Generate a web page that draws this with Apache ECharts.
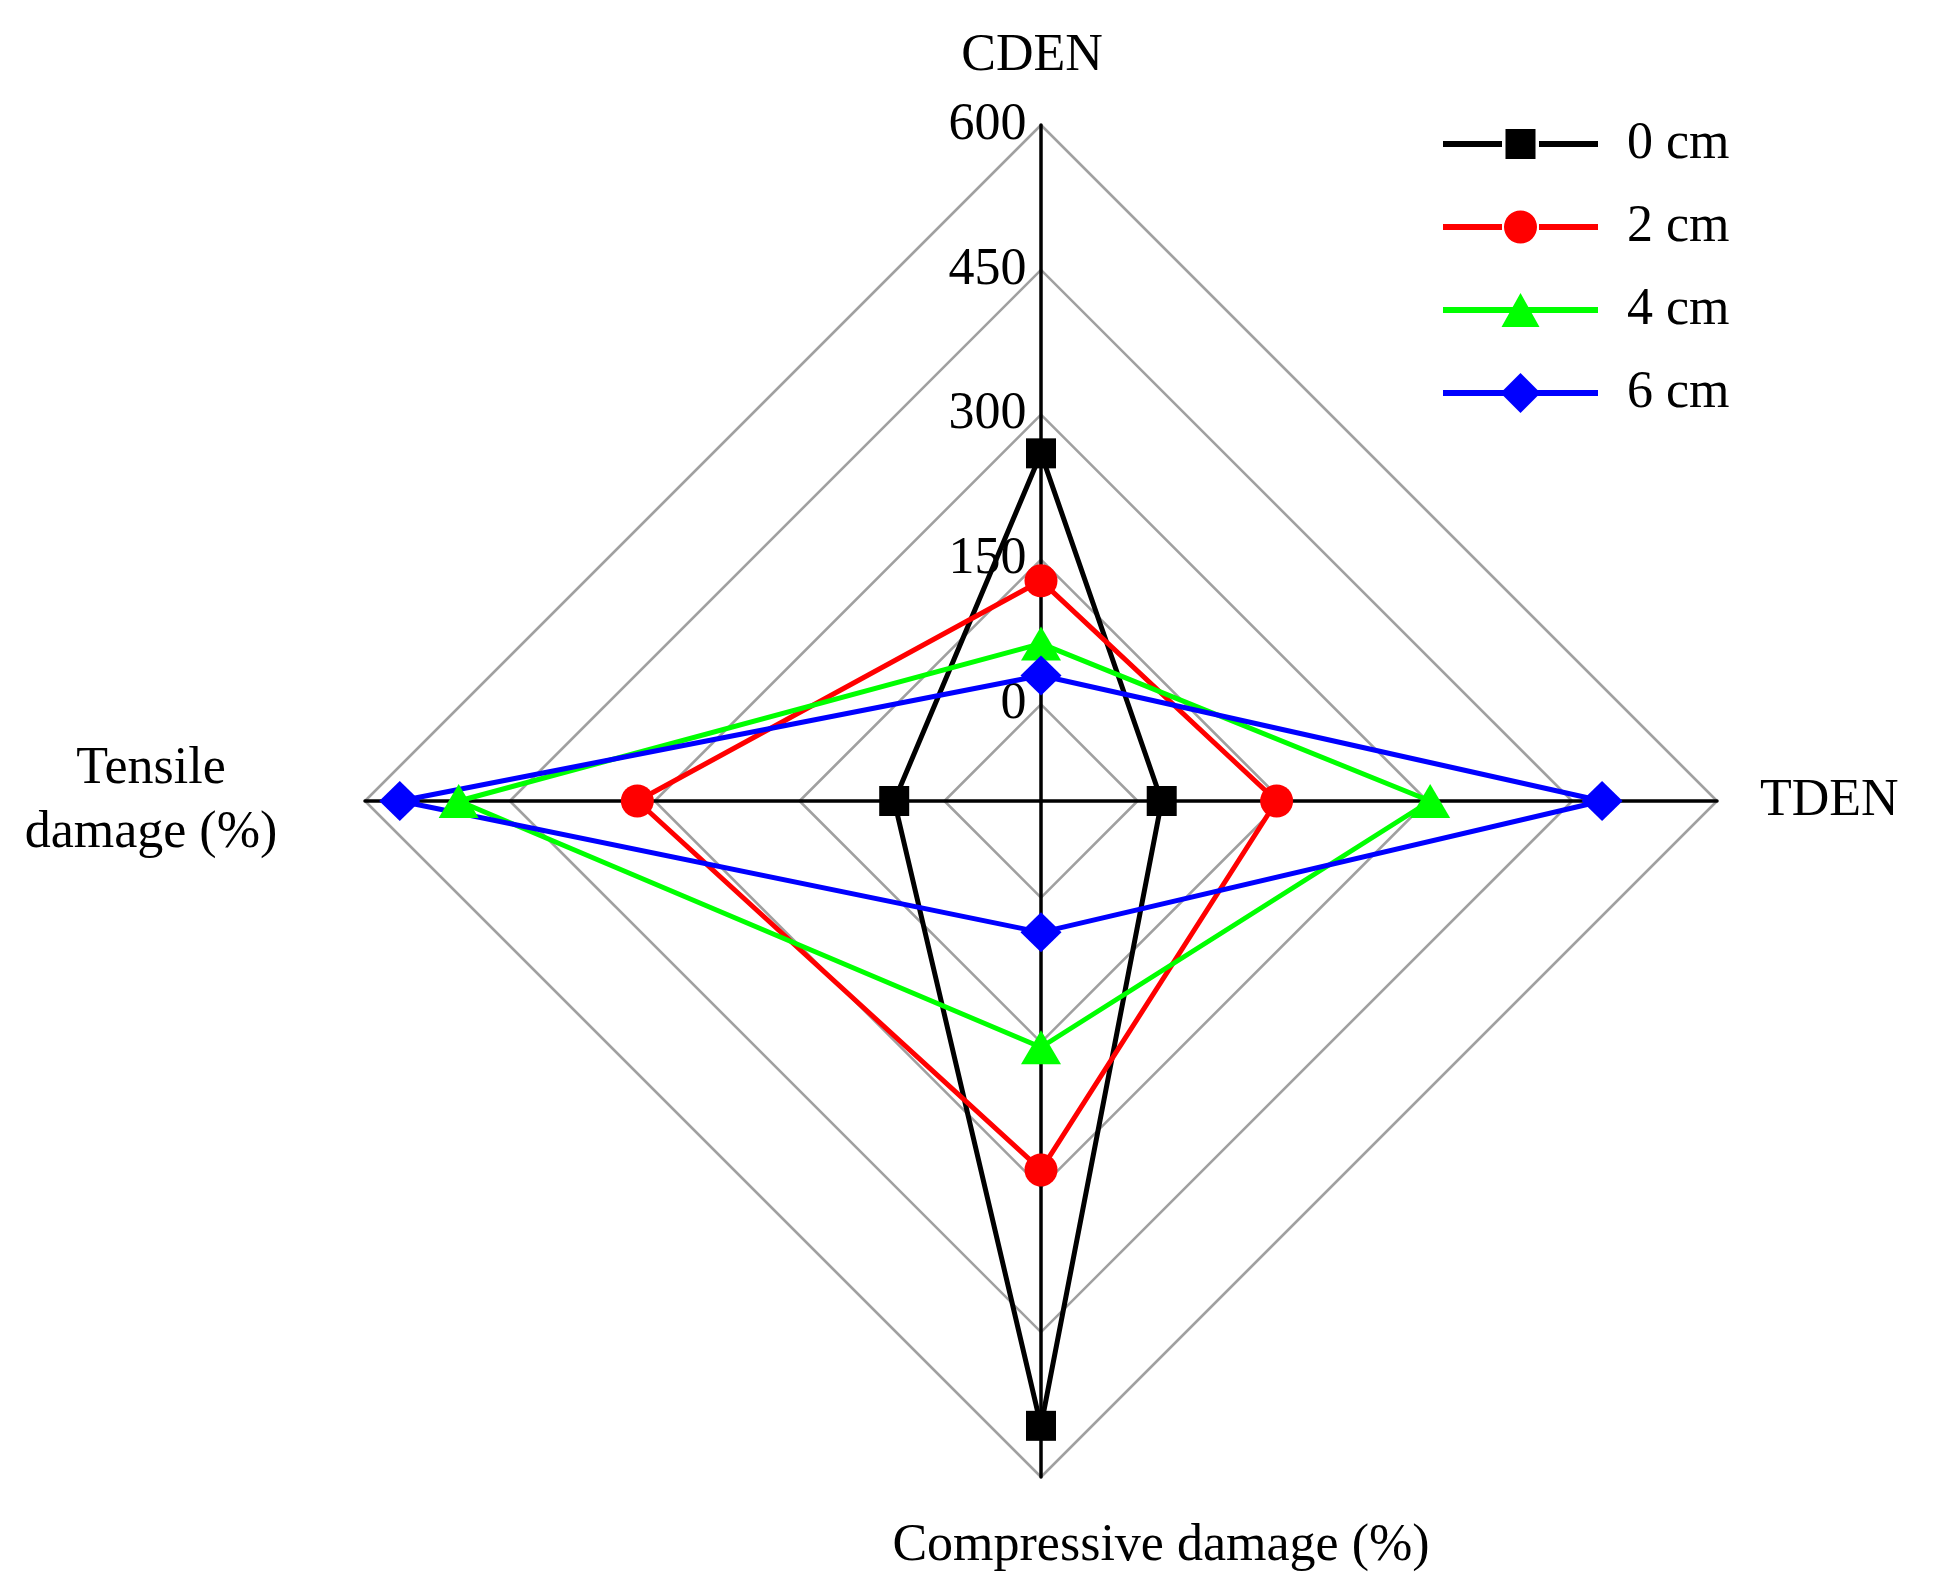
<!DOCTYPE html>
<html><head><meta charset="utf-8">
<script src="https://cdn.jsdelivr.net/npm/echarts@6/dist/echarts.min.js"></script>
<style>html,body{margin:0;padding:0;background:#fff}#c{width:1935px;height:1591px}</style>
</head><body><div id="c"></div>
<script>
// ---- data ----
const INDICATORS = ['CDEN', 'Tensile\ndamage (%)', 'Compressive damage (%)', 'TDEN']; // top, left, bottom, right
const AXIS_MIN = -100;
const AXIS_MAX = 600;
const TICK_VALUES = [0, 150, 300, 450, 600];
const SERIES_NAMES = ['0 cm', '2 cm', '4 cm', '6 cm'];
const S0 = [260, 52, 547, 25];
const S2 = [128, 318, 282, 144];
const S4 = [63, 503, 155, 303];
const S6 = [30, 564, 36, 481];

// ---- styles ----
const FONT = "'Liberation Serif', 'Times New Roman', serif";
const COLORS = ['#000000', '#ff0000', '#00ff00', '#0000ff'];
const SYMBOLS = ['rect', 'circle', 'triangle', 'diamond'];
const SYMBOL_SIZES = [30, 33, [40, 34], [41, 40]];
const LEGEND_ICONS = [
  'path://M0 0M0 17H59V23H0Z M96 17H155V23H96Z M62.5 5H92.5V35H62.5Z M155 40',
  'path://M0 0M0 17H59V23H0Z M96 17H155V23H96Z M61 20A16.5 16.5 0 1 1 94 20A16.5 16.5 0 1 1 61 20Z M155 40',
  'path://M0 0M0 17H155V23H0Z M77.5 3L96.5 37H58.5Z M155 40',
  'path://M0 0M0 17H155V23H0Z M77.5 0L97.5 20L77.5 40L57.5 20Z M155 40'
];

const DATA = [S0, S2, S4, S6];

const dataSeries = DATA.map((vals, i) => ({
  type: 'radar',
  name: SERIES_NAMES[i],
  z: 3,
  silent: true,
  symbol: SYMBOLS[i],
  symbolSize: SYMBOL_SIZES[i],
  itemStyle: { color: COLORS[i], borderWidth: 0, opacity: 1 },
  lineStyle: { color: COLORS[i], width: 5, join: 'round', cap: 'round' },
  data: [{ name: SERIES_NAMES[i], value: vals }]
}));

const ringSeries = {
  type: 'radar',
  name: 'rings',
  z: -1,
  silent: true,
  symbol: 'none',
  lineStyle: { color: '#a0a0a0', width: 2.5 },
  data: TICK_VALUES.map((v, k) => ({ name: 'ring' + k, value: INDICATORS.map(() => v) }))
};

const tickSeries = {
  type: 'radar',
  name: 'ticks',
  z: 1,
  silent: true,
  symbol: 'circle',
  symbolSize: 1,
  itemStyle: { color: 'rgba(0,0,0,0)', borderWidth: 0 },
  lineStyle: { width: 0, opacity: 0 },
  label: {
    show: true,
    position: 'left',
    distance: 14,
    color: '#000',
    fontSize: 52,
    fontFamily: FONT,
    formatter: function (p) {
      if (Array.isArray(p.value)) return '';
      return p.value === AXIS_MIN ? '' : String(p.value);
    }
  },
  data: TICK_VALUES.map((v, k) => ({ name: 'tick' + k, value: INDICATORS.map((_, j) => (j === 0 ? v : AXIS_MIN)) }))
};

const chart = echarts.init(document.getElementById('c'), null, { renderer: 'canvas' });
chart.setOption({
  backgroundColor: '#ffffff',
  animation: false,
  radar: {
    center: [1041, 801],
    radius: 676,
    startAngle: 90,
    shape: 'polygon',
    splitNumber: 7,
    nameGap: 43,
    indicator: INDICATORS.map(n => ({ name: n, min: AXIS_MIN, max: AXIS_MAX })),
    axisName: {
      color: '#000',
      fontSize: 52,
      fontFamily: FONT,
      formatter: function (name) {
        if (name.indexOf('\n') >= 0) {
          return name.split('\n').map(s => '{two|' + s + '}').join('\n');
        }
        if (name === INDICATORS[2]) return '{sp| }{one|' + name + '}';
        if (name === INDICATORS[0]) return '{one|' + name + '}{sp2| }';
        return '{one|' + name + '}';
      },
      rich: {
        one: { fontSize: 52, fontFamily: FONT, color: '#000', lineHeight: 52 },
        two: { fontSize: 52, fontFamily: FONT, color: '#000', lineHeight: 64, width: 342, align: 'center' },
        sp: { width: 240, fontSize: 52, lineHeight: 52 },
        sp2: { width: 18, fontSize: 52, lineHeight: 52 }
      }
    },
    axisLine: { show: true, lineStyle: { color: '#000', width: 3.5 } },
    axisTick: { show: false },
    axisLabel: { show: false },
    splitLine: { show: false },
    splitArea: { show: false }
  },
  legend: {
    orient: 'vertical',
    left: 1443,
    top: 118,
    padding: 0,
    itemWidth: 155,
    itemHeight: 40,
    itemGap: 31,
    selectedMode: false,
    textStyle: { fontSize: 52, fontFamily: FONT, color: '#000', padding: [0, 0, 0, 24] },
    data: SERIES_NAMES.map((n, i) => ({
      name: n,
      icon: LEGEND_ICONS[i],
      itemStyle: { color: COLORS[i], borderWidth: 0 }
    }))
  },
  series: [ringSeries, tickSeries].concat(dataSeries)
});
</script>
</body></html>
